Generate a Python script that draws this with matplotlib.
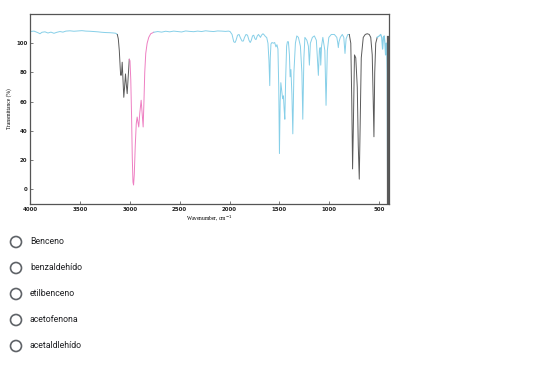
import matplotlib
matplotlib.use('Agg')
import matplotlib.pyplot as plt
from matplotlib.patches import Circle

blue1_wn = [4000, 3960, 3920, 3900, 3880, 3850, 3820, 3790, 3760, 3730, 3700, 3670, 3640, 3600,
            3560, 3520, 3480, 3440, 3400, 3360, 3320, 3280, 3240, 3200, 3160, 3140, 3125]
blue1_t = [108, 108.3, 107.2, 106.5, 107.5, 107.8, 107, 107.6, 106.8, 107.5, 108, 107.6, 108.3, 108.5,
           108.2, 108.4, 108.6, 108.3, 108.2, 108, 107.8, 107.5, 107.3, 107.2, 107, 106.8, 106]

gray1_wn = [3125, 3115, 3105, 3095, 3092, 3088, 3082, 3076, 3068, 3060, 3052, 3043, 3035, 3026, 3015, 3005]
gray1_t = [106, 103, 95, 82, 79, 78, 80, 87, 75, 63, 70, 79, 72, 65.5, 78, 89]

pink_wn = [3005, 2998, 2990, 2982, 2975, 2968, 2962, 2955, 2945, 2935, 2926, 2918, 2910, 2900, 2886,
           2876, 2866, 2858, 2850, 2840, 2826, 2810, 2790, 2775, 2760]
pink_t = [89, 88, 75, 50, 22, 5, 3, 10, 30, 45, 49.5, 46, 42.7, 52, 61,
          52, 42.7, 60, 80, 93, 100, 104, 106.5, 107, 107.5]

blue2_wn = [2760, 2720, 2680, 2640, 2600, 2560, 2520, 2480, 2440, 2400, 2360, 2320, 2280, 2240, 2200,
            2160, 2120, 2080, 2040, 2010, 1995, 1975, 1958, 1945, 1935, 1920, 1905, 1890, 1875, 1862,
            1850, 1835, 1820, 1805, 1793, 1782, 1770, 1758, 1745, 1735, 1722, 1710, 1700, 1690, 1680,
            1665, 1650, 1640, 1628, 1615, 1605, 1597, 1592, 1585, 1575, 1560, 1548, 1535, 1525, 1515,
            1507, 1500, 1493, 1486, 1478, 1468, 1460, 1453, 1446, 1438, 1428, 1420, 1410, 1400, 1393,
            1385, 1375, 1366, 1355, 1340, 1326, 1310, 1290, 1275, 1266, 1255, 1245, 1225, 1210, 1200,
            1190, 1170, 1150, 1130, 1120, 1110, 1100, 1092, 1086, 1078, 1065, 1045, 1033, 1020, 1005,
            980, 950, 925, 915, 910, 903, 890, 870, 855, 843, 832, 815, 800]
blue2_t = [107.5, 108, 107.6, 108.2, 107.8, 108.3, 108, 107.7, 108.4, 108.1, 107.9, 108.3, 108, 108.5, 108.2,
           108, 108.4, 108.3, 108.1, 108.3, 108, 106, 101, 100.5, 102, 105.5, 106, 103.5, 101.5, 101.5,
           104, 106, 105.5, 102, 100.5, 102, 105, 105.5, 103, 102.5, 105, 106, 105, 104, 105.5,
           106.5, 105.5, 104.5, 104, 100, 88, 71, 90, 99.5, 100.5, 100, 100.5, 97.5, 99, 96,
           70, 24.5, 60, 73, 68, 62, 64, 55, 48, 75, 98, 101, 101, 92, 77,
           82, 65, 38, 80, 100, 105, 104, 98, 80, 48, 90, 104, 102, 98, 85,
           100, 104, 105, 102, 90, 78, 95, 97, 85, 98, 104, 95, 57.5, 95, 104,
           106, 106, 104, 100, 97, 101, 104, 106, 104, 93, 103, 106, 106]

gray2_wn = [800, 785, 775, 767, 760, 748, 735, 720, 710, 700, 692, 680, 660, 640, 620,
            600, 585, 570, 560, 553, 545, 535, 520]
gray2_t = [106, 100, 60, 14, 40, 92, 90, 70, 30, 7, 40, 90, 104, 106, 106.5,
           106, 104, 92, 60, 36, 80, 100, 104]

blue3_wn = [520, 500, 485, 475, 466, 458, 450, 443, 436, 430, 425, 420, 417, 415]
blue3_t = [104, 105, 106, 104, 96, 104, 105, 100, 92, 100, 100, 80, 20, -10]

edge_wn = [412, 412]
edge_t = [104, -10]

options = ['Benceno', 'benzaldehído', 'etilbenceno', 'acetofenona', 'acetaldlehído']

blue = '#86cfe8'
pink = '#ee7fc2'
gray = '#5a5a5a'

fig = plt.figure(figsize=(5.6, 3.68), dpi=100)
ax = fig.add_axes([30/560, 1 - 204/368, 359/560, 190/368])

ax.plot(blue1_wn, blue1_t, color=blue, lw=0.7)
ax.plot(gray1_wn, gray1_t, color=gray, lw=0.7)
ax.plot(pink_wn, pink_t, color=pink, lw=0.7)
ax.plot(blue2_wn, blue2_t, color=blue, lw=0.7)
ax.plot(gray2_wn, gray2_t, color=gray, lw=0.7)
ax.plot(blue3_wn, blue3_t, color=blue, lw=0.9)
ax.plot(edge_wn, edge_t, color=gray, lw=1.6)

ax.set_xlim(4000, 402)
ax.set_ylim(-10, 120)
ax.set_xticks([4000, 3500, 3000, 2500, 2000, 1500, 1000, 500])
ax.set_yticks([0, 20, 40, 60, 80, 100])
ax.tick_params(direction='in', length=2, width=0.5, colors='#444444', labelsize=4, pad=2)
for lab in ax.get_xticklabels() + ax.get_yticklabels():
    lab.set_fontweight('bold')
    lab.set_color('#222222')
for s in ax.spines.values():
    s.set_color('#555555')
    s.set_linewidth(0.9)
ax.set_xlabel('Wavenumber, cm$^{-1}$', fontsize=4, labelpad=1, family='Liberation Serif')
ax.set_ylabel('Transmittance (%)', fontsize=4, labelpad=3, family='Liberation Serif')

# radio-button list below the chart, in pixel coordinates
ov = fig.add_axes([0, 0, 1, 1])
ov.set_xlim(0, 560)
ov.set_ylim(368, 0)
ov.axis('off')
for i, name in enumerate(options):
    y = 242 + 26 * i
    ov.add_patch(Circle((16, y), 5.5, fill=False, edgecolor='#5f6368', lw=1.2))
    ov.text(30, y, name, fontsize=6.3, family='Roboto', color='#202124', va='center', ha='left')

fig.savefig('out.png', dpi=100)
